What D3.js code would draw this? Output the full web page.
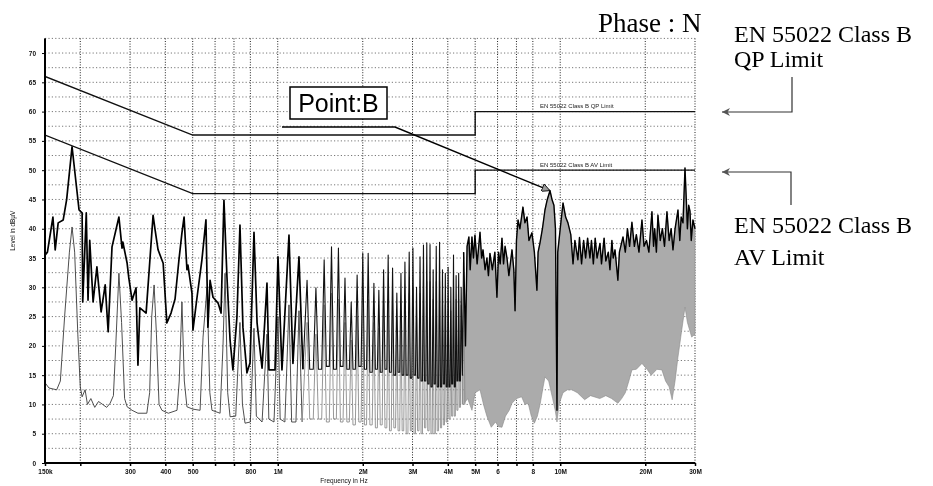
<!DOCTYPE html>
<html>
<head>
<meta charset="utf-8">
<script src="https://cdn.jsdelivr.net/npm/d3@7"></script>
<style>
  body { margin: 0; background: #fff; }
  svg { display: block; filter: grayscale(1); }
</style>
</head>
<body>
<svg id="chart" width="933" height="486"></svg>
<script>
// ---------- data (frequency in MHz, level in dBµV) ----------

const yTickValues = [0, 5, 10, 15, 20, 25, 30, 35, 40, 45, 50, 55, 60, 65, 70];
const yGridValues = [2.5, 5, 7.5, 10, 12.5, 15, 17.5, 20, 22.5, 25, 27.5, 30, 32.5, 35, 37.5,
                     40, 42.5, 45, 47.5, 50, 52.5, 55, 57.5, 60, 62.5, 65, 67.5, 70, 72.5];
const xTickValues = [0.15, 0.2, 0.3, 0.4, 0.5, 0.6, 0.7, 0.8, 1, 2, 3, 4, 5, 6, 7, 8, 10, 20, 30];
const xTickLabels = ["150k", "", "300", "400", "500", "", "", "800", "1M", "2M", "3M", "4M", "5M",
                     "6", "", "8", "10M", "20M", "30M"];

// EN 55022 Class B limits
const qpLimit = [[0.15, 66], [0.5, 56], [5, 56], [5, 60], [30, 60]];
const avLimit = [[0.15, 56], [0.5, 46], [5, 46], [5, 50], [30, 50]];

// Peak detector trace, low band
const peakLow = [
  [0.150, 35.5], [0.153, 36], [0.160, 42], [0.163, 36.4], [0.167, 41], [0.174, 41.5], [0.179, 45],
  [0.187, 54], [0.198, 43.2], [0.203, 42.7], [0.204, 27.5], [0.210, 42.7], [0.213, 27.8], [0.216, 38],
  [0.222, 27.5], [0.229, 33.5], [0.237, 25.8], [0.245, 30.4], [0.251, 22.4], [0.259, 36.9], [0.274, 42],
  [0.281, 36.7], [0.283, 37.7], [0.293, 34.1], [0.297, 31.6], [0.305, 27.8], [0.315, 29.9], [0.320, 16.7],
  [0.325, 26.5], [0.342, 25.6], [0.362, 42.3], [0.368, 39.8], [0.377, 36.4], [0.393, 34.1], [0.405, 23.9],
  [0.419, 25.6], [0.433, 28], [0.447, 34.7], [0.458, 39.3], [0.466, 42], [0.477, 33], [0.481, 33.8],
  [0.497, 29], [0.501, 22.7], [0.518, 28.3], [0.539, 34.7], [0.557, 41.5], [0.566, 23.2], [0.576, 31.2],
  [0.590, 28.3], [0.615, 27.3], [0.630, 25.6], [0.645, 44.9], [0.661, 31.8], [0.678, 21], [0.694, 15.9],
  [0.717, 24.9], [0.735, 40.6], [0.753, 23.2], [0.778, 15.4], [0.798, 17.1], [0.824, 39.4], [0.845, 23.9],
  [0.880, 16.2], [0.916, 30.7], [0.931, 15.9], [0.978, 15.9], [1.002, 35.2], [1.035, 15.9], [1.096, 38.9],
  [1.132, 17], [1.189, 35.2], [1.228, 16]
];

// Peak detector harmonics: [frequency, top, floor after]
const peakSpikes = [
  [1.27, 31.2, 16], [1.365, 29.9, 16], [1.46, 34.7, 16.5], [1.55, 36.9, 16], [1.64, 36.7, 16.5],
  [1.73, 31.6, 16], [1.82, 27.5, 16], [1.91, 32.1, 16.5], [2.0, 35.8, 16], [2.09, 35.8, 15.5],
  [2.19, 30.7, 16], [2.28, 29.5, 15.5], [2.37, 33, 16], [2.46, 35.5, 15.5], [2.55, 33.3, 15],
  [2.64, 29, 15.5], [2.73, 32.4, 15], [2.82, 34.3, 15], [2.92, 36, 14.5], [3.01, 36.7, 15],
  [3.10, 30, 14.5], [3.19, 35.2, 14], [3.28, 37.2, 14], [3.37, 37.6, 13.5], [3.46, 37.3, 13],
  [3.55, 33, 13.5], [3.64, 37, 13], [3.74, 37.7, 13], [3.83, 33, 13.5], [3.92, 32.4, 13],
  [4.01, 33.4, 13], [4.10, 30, 13.5], [4.19, 35.5, 13], [4.28, 32, 14], [4.37, 32.4, 14],
  [4.46, 30, 15]
];

// Peak detector trace, high band
const peakHigh = [
  [4.55, 36], [4.62, 20], [4.68, 37], [4.75, 38.6], [4.8, 33], [4.87, 38.6], [4.93, 35], [4.99, 38.9],
  [5.08, 34], [5.2, 39.4], [5.27, 35], [5.33, 36.4], [5.42, 33], [5.5, 35], [5.57, 32], [5.64, 35.8],
  [5.75, 33], [5.87, 36], [5.97, 28.3], [6.05, 36], [6.13, 34], [6.22, 38.4], [6.3, 34], [6.38, 37],
  [6.48, 35], [6.58, 32], [6.75, 36.4], [6.85, 33], [6.92, 26], [7.0, 38], [7.09, 41.5], [7.2, 40],
  [7.38, 43.7], [7.5, 41], [7.63, 42], [7.75, 38], [7.94, 39.3], [8.1, 36], [8.27, 29.5], [8.35, 36],
  [8.48, 37.6], [8.65, 40], [8.83, 43.2], [9.0, 45], [9.2, 46.5], [9.35, 45], [9.5, 44], [9.62, 40],
  [9.74, 9], [9.8, 36], [10.0, 40], [10.23, 44.4], [10.45, 42], [10.65, 41], [10.9, 39], [11.1, 34],
  [11.27, 38], [11.55, 34.7], [11.7, 38.5], [11.9, 34], [12.1, 38], [12.3, 35], [12.5, 38.4], [12.74, 35],
  [12.9, 38], [13.1, 34], [13.3, 38.4], [13.5, 35], [13.83, 37.5], [14.0, 34], [14.3, 38.4], [14.5, 34.5],
  [14.8, 36], [15.0, 33], [15.24, 38], [15.4, 35], [15.63, 36.4], [16.0, 31.2], [16.2, 36], [16.68, 38.6],
  [17.0, 36], [17.3, 40], [17.6, 37], [17.94, 41.1], [18.3, 37], [18.6, 39], [19.0, 36], [19.47, 41.5],
  [19.8, 37], [20.2, 38], [20.6, 36], [21.12, 42.9], [21.4, 37], [21.6, 40], [21.9, 36], [22.18, 42.3],
  [22.6, 38], [23.0, 40], [23.4, 37], [23.87, 42.9], [24.3, 38], [24.7, 40], [25.07, 36.4], [25.5, 40],
  [26.11, 43.2], [26.5, 38], [26.8, 42], [27.2, 41], [27.65, 50.4], [28.0, 44], [28.2, 40], [28.5, 44],
  [28.8, 43], [29.1, 38], [29.5, 41.5], [30, 40]
];

// Average detector trace, low band
const avgLow = [
  [0.150, 13.7], [0.155, 12.8], [0.165, 12.5], [0.170, 14], [0.176, 25], [0.183, 36], [0.187, 40.3],
  [0.191, 36], [0.196, 22], [0.200, 13], [0.203, 11.3], [0.208, 12.5], [0.212, 10], [0.218, 11],
  [0.225, 9.5], [0.232, 10.5], [0.240, 10], [0.248, 9.5], [0.255, 10.2], [0.262, 11.5], [0.267, 20],
  [0.274, 32.4], [0.280, 24], [0.287, 11], [0.293, 9.6], [0.305, 9], [0.320, 8.5], [0.344, 8.5],
  [0.352, 12], [0.358, 25], [0.365, 30.4], [0.372, 22], [0.380, 10], [0.389, 9], [0.410, 8.5],
  [0.440, 9], [0.448, 14], [0.458, 27.5], [0.467, 14], [0.477, 9.6], [0.500, 9.2], [0.531, 9],
  [0.544, 21.5], [0.562, 30], [0.575, 12], [0.585, 9], [0.625, 8.5], [0.640, 20], [0.651, 32.4],
  [0.665, 12], [0.678, 7.9], [0.710, 8], [0.735, 24], [0.750, 10], [0.766, 6.8], [0.800, 7],
  [0.824, 23], [0.840, 8], [0.880, 7], [0.916, 22], [0.930, 7.5], [0.970, 7], [1.002, 25], [1.020, 7.5],
  [1.060, 7], [1.096, 27], [1.120, 7], [1.160, 7], [1.189, 26], [1.220, 7]
];

// Average detector harmonics: [frequency, top, floor after]
const avgSpikes = [
  [1.27, 24, 7.5], [1.365, 22, 7.5], [1.46, 27, 7], [1.55, 29, 7.5], [1.64, 28, 7], [1.73, 24, 7],
  [1.82, 21, 6.5], [1.91, 25, 7], [2.0, 28, 6.5], [2.09, 28, 6.5], [2.19, 24, 6], [2.28, 23, 6.5],
  [2.37, 26, 6], [2.46, 28, 5.5], [2.55, 26, 6], [2.64, 23, 5.5], [2.73, 26, 5.5], [2.82, 28, 5],
  [2.92, 29, 5.5], [3.01, 30, 5], [3.10, 25, 5.5], [3.19, 29, 5], [3.28, 31, 6], [3.37, 31, 5.5],
  [3.46, 31, 5], [3.55, 28, 5], [3.64, 31, 5.5], [3.74, 31, 6], [3.83, 28, 6.5], [3.92, 27, 7],
  [4.01, 28, 7.5], [4.10, 26, 8], [4.19, 30, 8], [4.28, 28, 9], [4.37, 28, 9.5], [4.46, 27, 10]
];

// Lower edge of the dense average-detector band above 4.5 MHz
const avgBandBottom = [
  [4.55, 10], [4.7, 11], [4.87, 9], [5.0, 12], [5.2, 12.5], [5.35, 10], [5.5, 8], [5.7, 6.1], [5.9, 7],
  [6.05, 6.2], [6.22, 6.1], [6.4, 8], [6.6, 9], [6.75, 10.2], [7.0, 11], [7.3, 11.3], [7.5, 10],
  [7.7, 10.2], [7.9, 8], [8.1, 6.8], [8.3, 8], [8.5, 10.2], [8.7, 13], [8.83, 14.7], [9.1, 14],
  [9.4, 11], [9.6, 9], [9.74, 7], [9.9, 10], [10.23, 12], [10.6, 12.5], [11.0, 12.5], [11.5, 12],
  [12.2, 10.8], [12.8, 11.5], [13.8, 11], [14.5, 11.5], [15.2, 11], [16.0, 10.2], [16.5, 11], [17.0, 12],
  [17.5, 14], [17.94, 15.9], [18.6, 16], [19.47, 17], [20.3, 16], [21, 15], [22, 16], [22.9, 15.9],
  [23.6, 14], [24.3, 13], [24.9, 10.8], [25.5, 14], [26.1, 18], [26.8, 22], [27.65, 26.6], [28.2, 24],
  [29.2, 21.5], [30, 22]
];

// Marked emission peak
const pointB = [9.2, 46.5];

// ---------- layout ----------
const svg = d3.select("#chart");
const plot = { left: 45, right: 695, top: 38.4, bottom: 463 };

const x = d3.scaleLog().domain([0.15, 30]).range([plot.left, plot.right]);
const y = d3.scaleLinear().domain([0, 72.5]).range([plot.bottom, plot.top]);

const defs = svg.append("defs");
defs.append("clipPath").attr("id", "plotClip")
  .append("rect")
  .attr("x", plot.left).attr("y", plot.top - 2)
  .attr("width", plot.right - plot.left + 1).attr("height", plot.bottom - plot.top + 2);

// dotted grid
const grid = svg.append("g");
grid.selectAll("line.h").data(yGridValues).join("line")
  .attr("x1", plot.left).attr("x2", plot.right)
  .attr("y1", d => y(d)).attr("y2", d => y(d))
  .attr("stroke", "#555").attr("stroke-width", 0.8)
  .attr("stroke-dasharray", "1.2,2.2");
grid.selectAll("line.v").data(xTickValues).join("line")
  .attr("x1", d => x(d)).attr("x2", d => x(d))
  .attr("y1", plot.top).attr("y2", plot.bottom)
  .attr("stroke", "#222").attr("stroke-width", 1)
  .attr("stroke-dasharray", "1,1.6");

const line = d3.line().x(d => x(d[0])).y(d => y(d[1]));

// turn a harmonic list into narrow spikes with flat floors between them
function spikePoints(spikes) {
  const pts = [];
  spikes.forEach((s, i) => {
    pts.push([s[0], s[1]]);
    const next = spikes[i + 1];
    if (next) {
      const a = Math.log(s[0]), b = Math.log(next[0]);
      pts.push([Math.exp(a + (b - a) * 0.3), s[2]]);
      pts.push([Math.exp(a + (b - a) * 0.7), s[2]]);
    } else {
      pts.push([s[0] * 1.01, s[2]]);
    }
  });
  return pts;
}

const data = svg.append("g").attr("clip-path", "url(#plotClip)");

// average detector: dense band, harmonics, low band
const bandPoly = peakHigh.concat(avgBandBottom.slice().reverse());
data.append("path")
  .attr("d", line(bandPoly) + "Z")
  .attr("fill", "#ababab").attr("stroke", "#8a8a8a").attr("stroke-width", 0.6);

data.append("path")
  .attr("d", line(avgLow))
  .attr("fill", "none").attr("stroke", "#3a3a3a").attr("stroke-width", 0.9)
  .attr("stroke-linejoin", "round");
data.append("path")
  .attr("d", line([avgLow[avgLow.length - 1]].concat(spikePoints(avgSpikes), [[4.55, 32], [4.6, 10]])))
  .attr("fill", "none").attr("stroke", "#8c8c8c").attr("stroke-width", 0.9)
  .attr("stroke-linejoin", "round");

// limit lines
[qpLimit, avLimit].forEach(lim => {
  data.append("path")
    .attr("d", line(lim))
    .attr("fill", "none").attr("stroke", "#111").attr("stroke-width", 1.4);
});

// peak detector trace: low band, harmonic comb, dense high band
const spikePts = spikePoints(peakSpikes);
data.append("path")
  .attr("d", line(peakLow))
  .attr("fill", "none").attr("stroke", "#000").attr("stroke-width", 1.7)
  .attr("stroke-linejoin", "round");
data.append("path")
  .attr("d", line([peakLow[peakLow.length - 1]].concat(spikePts, [peakHigh[0]])))
  .attr("fill", "none").attr("stroke", "#111").attr("stroke-width", 1.1)
  .attr("stroke-linejoin", "round");
data.append("path")
  .attr("d", line(peakHigh))
  .attr("fill", "none").attr("stroke", "#000").attr("stroke-width", 1.4)
  .attr("stroke-linejoin", "round");

// limit line captions
const capFont = "Liberation Sans, Arial, sans-serif";
svg.append("text").attr("x", 540).attr("y", y(60) - 4)
  .attr("font-family", capFont).attr("font-size", 6).attr("fill", "#222")
  .text("EN 55022 Class B QP Limit");
svg.append("text").attr("x", 540).attr("y", y(50) - 3)
  .attr("font-family", capFont).attr("font-size", 6).attr("fill", "#222")
  .text("EN 55022 Class B AV Limit");

// axes
const yAxis = d3.axisLeft(y).tickValues(yTickValues).tickSize(3).tickPadding(6);
const gy = svg.append("g").attr("transform", `translate(${plot.left},0)`).call(yAxis);
gy.select(".domain").attr("stroke", "#000").attr("stroke-width", 2)
  .attr("d", `M0,${plot.top}V${plot.bottom}`);
gy.selectAll("text").attr("font-family", capFont).attr("font-size", 6.5)
  .attr("font-weight", "bold").attr("fill", "#111");

const xAxis = d3.axisBottom(x).tickValues(xTickValues)
  .tickFormat((d, i) => xTickLabels[i]).tickSize(3).tickPadding(3);
const gx = svg.append("g").attr("transform", `translate(0,${plot.bottom})`).call(xAxis);
gx.select(".domain").attr("stroke", "#000").attr("stroke-width", 2)
  .attr("d", `M${plot.left},0H${plot.right}`);
gx.selectAll("text").attr("font-family", capFont).attr("font-size", 6.5)
  .attr("font-weight", "bold").attr("fill", "#111");
gx.selectAll(".tick line").attr("stroke-width", 1.5);

svg.append("text")
  .attr("transform", `translate(15,${(plot.top + plot.bottom) / 2 - 20}) rotate(-90)`)
  .attr("text-anchor", "middle")
  .attr("font-family", capFont).attr("font-size", 6.5).attr("fill", "#111")
  .text("Level in dBµV");
svg.append("text")
  .attr("x", 344).attr("y", 483).attr("text-anchor", "middle")
  .attr("font-family", capFont).attr("font-size", 6.5).attr("fill", "#111")
  .text("Frequency in Hz");

// Point:B callout
defs.append("marker")
  .attr("id", "tri").attr("viewBox", "0 0 10 10")
  .attr("refX", 10).attr("refY", 5)
  .attr("markerWidth", 9).attr("markerHeight", 8)
  .attr("markerUnits", "userSpaceOnUse")
  .attr("orient", "auto")
  .append("path").attr("d", "M0,0L10,5L0,10Z")
  .attr("fill", "#999").attr("stroke", "#000").attr("stroke-width", 1);

svg.append("rect").attr("x", 290).attr("y", 87).attr("width", 97).attr("height", 32)
  .attr("fill", "#fff").attr("stroke", "#000").attr("stroke-width", 1.5);
svg.append("text").attr("x", 338.5).attr("y", 112).attr("text-anchor", "middle")
  .attr("font-family", capFont).attr("font-size", 25).attr("fill", "#000")
  .text("Point:B");
svg.append("path")
  .attr("d", `M282,127H395L${x(pointB[0])},${y(pointB[1])}`)
  .attr("fill", "none").attr("stroke", "#000").attr("stroke-width", 1.4)
  .attr("marker-end", "url(#tri)");

// right-hand annotations
const serif = "Liberation Serif, Times New Roman, serif";
svg.append("text").attr("x", 598).attr("y", 32)
  .attr("font-family", serif).attr("font-size", 27).attr("fill", "#000")
  .text("Phase : N");
[["EN 55022 Class B", 42], ["QP Limit", 67], ["EN 55022 Class B", 233], ["AV Limit", 265]]
  .forEach(([t, yy]) => {
    svg.append("text").attr("x", 734).attr("y", yy)
      .attr("font-family", serif).attr("font-size", 24).attr("fill", "#000").text(t);
  });

defs.append("marker")
  .attr("id", "leftArrow").attr("viewBox", "0 0 10 10")
  .attr("refX", 10).attr("refY", 5)
  .attr("markerWidth", 12).attr("markerHeight", 8)
  .attr("markerUnits", "userSpaceOnUse")
  .attr("orient", "auto")
  .append("path").attr("d", "M0,0L10,5L0,10L3,5Z")
  .attr("fill", "#555");
svg.append("path").attr("d", "M792,77V112H722")
  .attr("fill", "none").attr("stroke", "#333").attr("stroke-width", 1.2)
  .attr("marker-end", "url(#leftArrow)");
svg.append("path").attr("d", "M791,205V172H722")
  .attr("fill", "none").attr("stroke", "#333").attr("stroke-width", 1.2)
  .attr("marker-end", "url(#leftArrow)");
</script>
</body>
</html>
